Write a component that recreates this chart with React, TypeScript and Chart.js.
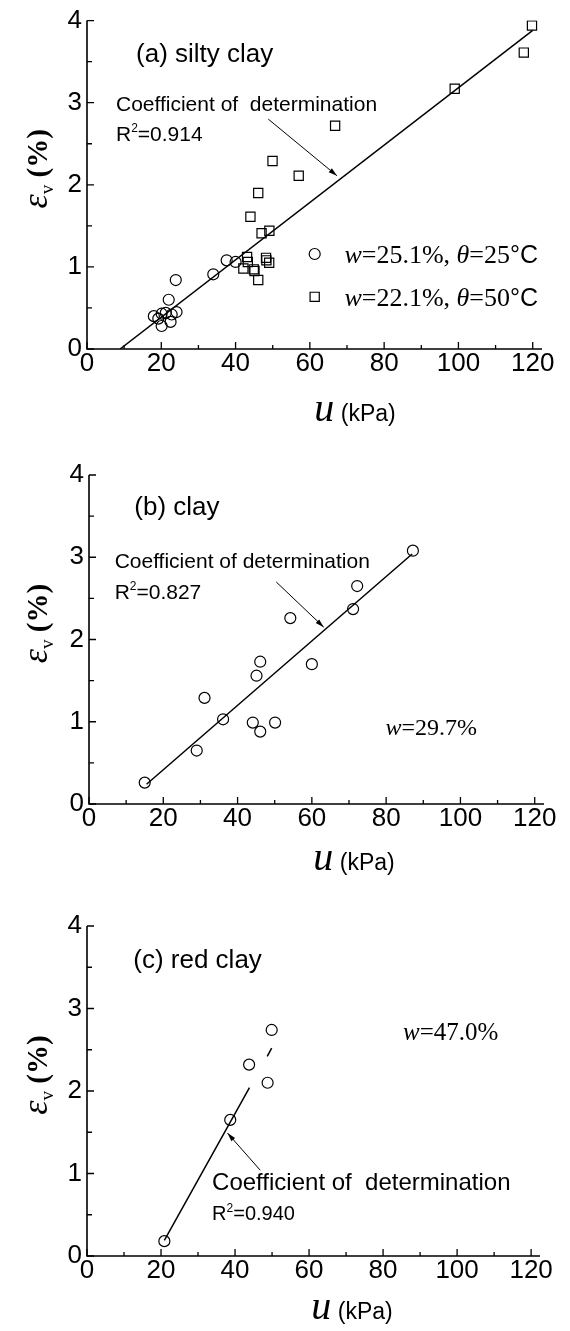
import React, { useEffect, useRef } from "react";
import { Chart, registerables } from "chart.js";

Chart.register(...registerables);

// ---------- data ----------
// Panel (a) silty clay
const aCircleU = [18.0, 19.2, 20.1, 21.2, 22.8, 24.1, 20.1, 22.5, 22.0, 23.9, 34.0, 37.6, 40.0];
const aCircleE = [0.40, 0.37, 0.43, 0.44, 0.42, 0.45, 0.28, 0.33, 0.60, 0.84, 0.91, 1.08, 1.06];
const aSquareU = [42.1, 43.1, 43.3, 44.0, 44.9, 45.1, 46.1, 46.1, 47.0, 48.2, 48.3, 49.05, 49.1, 49.95, 57.0, 66.8, 99.0, 117.6, 119.8];
const aSquareE = [0.98, 1.12, 1.06, 1.61, 0.97, 0.95, 0.84, 1.90, 1.41, 1.11, 1.08, 1.05, 1.44, 2.29, 2.11, 2.72, 3.17, 3.61, 3.94];
const aFitU = [8.9, 120];
const aFitE = [0, 3.88];

// Panel (b) clay
const bCircleU = [15.0, 29.0, 31.1, 36.1, 44.1, 46.1, 50.1, 45.1, 46.1, 54.2, 60.0, 71.1, 72.2, 87.2];
const bCircleE = [0.26, 0.65, 1.29, 1.03, 0.99, 0.88, 0.99, 1.56, 1.73, 2.26, 1.70, 2.37, 2.65, 3.08];
const bFitU = [15.5, 87.0];
const bFitE = [0.24, 3.04];

// Panel (c) red clay
const cCircleU = [20.9, 38.7, 43.8, 48.8, 49.9];
const cCircleE = [0.18, 1.65, 2.32, 2.10, 2.74];
const cFitU = [20.9, 43.9, 46.3, 48.7, 49.9];
const cFitE: (number | null)[] = [0.19, 2.04, null, 2.42, 2.52];

// ticks
const xTicks = [0, 20, 40, 60, 80, 100, 120];
const xMinorTicks = [10, 30, 50, 70, 90, 110];
const yTicks = [0, 1, 2, 3, 4];
const yMinorTicks = [0.5, 1.5, 2.5, 3.5];

// ---------- styles ----------
const SANS = '"Liberation Sans", Arial, Helvetica, sans-serif';
const SERIF = '"Liberation Serif", "Times New Roman", Times, serif';
const sans = (s: number) => `${s}px ${SANS}`;
const serif = (s: number, it = false) => `${it ? "italic " : ""}${s}px ${SERIF}`;

type Seg = { t: string; f: string; dy?: number };
type Note = { u: number; e: number; size: number; segs: Seg[] };
type Arrow = { from: [number, number]; to: [number, number] };
type Mark = { u: number; e: number; style: "circle" | "rect" };

const pts = (xs: number[], ys: (number | null)[]) => xs.map((x, i) => ({ x, y: ys[i] }));

function drawRich(ctx: CanvasRenderingContext2D, segs: Seg[], x: number, y: number, center = false) {
  let w = 0;
  segs.forEach((s) => {
    ctx.font = s.f;
    w += ctx.measureText(s.t).width;
  });
  let cx = center ? x - w / 2 : x;
  ctx.textAlign = "left";
  ctx.textBaseline = "alphabetic";
  segs.forEach((s) => {
    ctx.font = s.f;
    ctx.fillText(s.t, cx, y + (s.dy || 0));
    cx += ctx.measureText(s.t).width;
  });
}

const R2 = (val: string, size: number): Seg[] => [
  { t: "R", f: sans(size) },
  { t: "2", f: sans(Math.round(size * 0.58)), dy: -size * 0.42 },
  { t: "=" + val, f: sans(size) },
];

const circleStyle = { pointStyle: "circle", pointRadius: 5.5, borderWidth: 1.2, borderColor: "#000", backgroundColor: "rgba(0,0,0,0)" };
const rectStyle = { pointStyle: "rect", pointRadius: 6.5, borderWidth: 1.2, borderColor: "#000", backgroundColor: "rgba(0,0,0,0)" };
const fitStyle = { type: "line", borderColor: "#000", borderWidth: 1.5, pointRadius: 0, fill: false, spanGaps: false, tension: 0 };

type PanelCfg = {
  top: number;
  h: number;
  areaTop: number;
  areaBottom: number;
  left: number;
  right: number;
  xMax: number;
  xTitleX: number;
  xTitleDy: number;
  datasets: any[];
  notes: Note[];
  arrows: Arrow[];
  marks: Mark[];
};

const panels: PanelCfg[] = [
  {
    top: 0,
    h: 440,
    areaTop: 17,
    areaBottom: 349,
    left: 87,
    right: 542,
    xMax: 122.5,
    xTitleX: 355,
    xTitleDy: 72,
    datasets: [
      { type: "scatter", data: pts(aCircleU, aCircleE), ...circleStyle },
      { type: "scatter", data: pts(aSquareU, aSquareE), ...rectStyle },
      { data: pts(aFitU, aFitE), ...fitStyle },
    ],
    notes: [
      { u: 13.2, e: 3.61, size: 26, segs: [{ t: "(a) silty clay", f: sans(26) }] },
      { u: 7.8, e: 2.99, size: 21, segs: [{ t: "Coefficient of  determination", f: sans(21) }] },
      { u: 7.8, e: 2.63, size: 21, segs: R2("0.914", 21) },
      {
        u: 69.3, e: 1.157, size: 26,
        segs: [
          { t: "w", f: serif(26, true) },
          { t: "=25.1%, ", f: serif(26) },
          { t: "θ", f: serif(26, true) },
          { t: "=25", f: serif(26) },
          { t: "°C", f: sans(25) },
        ],
      },
      {
        u: 69.3, e: 0.635, size: 26,
        segs: [
          { t: "w", f: serif(26, true) },
          { t: "=22.1%, ", f: serif(26) },
          { t: "θ", f: serif(26, true) },
          { t: "=50", f: serif(26) },
          { t: "°C", f: sans(25) },
        ],
      },
    ],
    arrows: [{ from: [48.8, 2.8], to: [67.3, 2.11] }],
    marks: [
      { u: 61.3, e: 1.157, style: "circle" },
      { u: 61.3, e: 0.635, style: "rect" },
    ],
  },
  {
    top: 440,
    h: 445,
    areaTop: 35,
    areaBottom: 364,
    left: 89,
    right: 544,
    xMax: 122.5,
    xTitleX: 354,
    xTitleDy: 66,
    datasets: [
      { type: "scatter", data: pts(bCircleU, bCircleE), ...circleStyle },
      { data: pts(bFitU, bFitE), ...fitStyle },
    ],
    notes: [
      { u: 12.2, e: 3.63, size: 26, segs: [{ t: "(b) clay", f: sans(26) }] },
      { u: 6.9, e: 2.96, size: 21, segs: [{ t: "Coefficient of determination", f: sans(21) }] },
      { u: 6.9, e: 2.59, size: 21, segs: R2("0.827", 21) },
      { u: 79.8, e: 0.95, size: 24, segs: [{ t: "w", f: serif(24, true) }, { t: "=29.7%", f: serif(24) }] },
    ],
    arrows: [{ from: [50.4, 2.7], to: [63.2, 2.15] }],
    marks: [],
  },
  {
    top: 885,
    h: 446,
    areaTop: 41,
    areaBottom: 371,
    left: 87,
    right: 540,
    xMax: 122.4,
    xTitleX: 352,
    xTitleDy: 63,
    datasets: [
      { type: "scatter", data: pts(cCircleU, cCircleE), ...circleStyle },
      { data: pts(cFitU, cFitE), ...fitStyle },
    ],
    notes: [
      { u: 12.5, e: 3.61, size: 26, segs: [{ t: "(c) red clay", f: sans(26) }] },
      { u: 33.8, e: 0.9, size: 24, segs: [{ t: "Coefficient of  determination", f: sans(24) }] },
      { u: 33.8, e: 0.52, size: 20, segs: R2("0.940", 20) },
      { u: 85.4, e: 2.73, size: 25, segs: [{ t: "w", f: serif(25, true) }, { t: "=47.0%", f: serif(25) }] },
    ],
    arrows: [{ from: [46.8, 1.04], to: [37.96, 1.49] }],
    marks: [],
  },
];

function drawArrow(ctx: CanvasRenderingContext2D, x1: number, y1: number, x2: number, y2: number) {
  ctx.save();
  ctx.strokeStyle = "#000";
  ctx.fillStyle = "#000";
  ctx.lineWidth = 1;
  ctx.beginPath();
  ctx.moveTo(x1, y1);
  ctx.lineTo(x2, y2);
  ctx.stroke();
  const a = Math.atan2(y2 - y1, x2 - x1);
  const L = 9;
  const s = 0.28;
  ctx.beginPath();
  ctx.moveTo(x2, y2);
  ctx.lineTo(x2 - L * Math.cos(a - s), y2 - L * Math.sin(a - s));
  ctx.lineTo(x2 - L * Math.cos(a + s), y2 - L * Math.sin(a + s));
  ctx.closePath();
  ctx.fill();
  ctx.restore();
}

function Panel({ cfg }: { cfg: PanelCfg }) {
  const ref = useRef<HTMLCanvasElement>(null);
  useEffect(() => {
    const overlay = {
      id: "overlay" + cfg.top,
      afterDraw(chart: any) {
        const ctx: CanvasRenderingContext2D = chart.ctx;
        const xs = chart.scales.x;
        const ys = chart.scales.y;
        const { left, right, top, bottom } = chart.chartArea;
        ctx.save();
        ctx.strokeStyle = "#000";
        ctx.fillStyle = "#000";
        // axes lines
        ctx.lineWidth = 1.6;
        ctx.beginPath();
        ctx.moveTo(left, top);
        ctx.lineTo(left, bottom);
        ctx.lineTo(right, bottom);
        ctx.stroke();
        // ticks (inward)
        ctx.lineWidth = 1.3;
        ctx.beginPath();
        xTicks.forEach((v) => {
          const p = xs.getPixelForValue(v);
          ctx.moveTo(p, bottom);
          ctx.lineTo(p, bottom - 7);
        });
        xMinorTicks.forEach((v) => {
          const p = xs.getPixelForValue(v);
          ctx.moveTo(p, bottom);
          ctx.lineTo(p, bottom - 4);
        });
        yTicks.forEach((v) => {
          const p = ys.getPixelForValue(v);
          ctx.moveTo(left, p);
          ctx.lineTo(left + 7, p);
        });
        yMinorTicks.forEach((v) => {
          const p = ys.getPixelForValue(v);
          ctx.moveTo(left, p);
          ctx.lineTo(left + 5, p);
        });
        ctx.stroke();

        // notes
        cfg.notes.forEach((n) => {
          const x = xs.getPixelForValue(n.u);
          const y = ys.getPixelForValue(n.e) + n.size * 0.36;
          drawRich(ctx, n.segs, x, y);
        });
        cfg.arrows.forEach((a) => {
          drawArrow(
            ctx,
            xs.getPixelForValue(a.from[0]),
            ys.getPixelForValue(a.from[1]),
            xs.getPixelForValue(a.to[0]),
            ys.getPixelForValue(a.to[1])
          );
        });
        cfg.marks.forEach((m) => {
          const x = xs.getPixelForValue(m.u);
          const y = ys.getPixelForValue(m.e);
          ctx.lineWidth = 1.2;
          ctx.beginPath();
          if (m.style === "circle") ctx.arc(x, y, 5.5, 0, Math.PI * 2);
          else ctx.rect(x - 4.6, y - 4.6, 9.2, 9.2);
          ctx.stroke();
        });

        // y title (rotated)
        ctx.save();
        ctx.translate(36, (top + bottom) / 2 - 16);
        ctx.rotate(-Math.PI / 2);
        drawRich(
          ctx,
          [
            { t: "ε", f: serif(36, true) },
            { t: "v", f: serif(19), dy: 6 },
            { t: " (%)", f: "bold " + serif(29) },
          ],
          0,
          11,
          true
        );
        ctx.restore();

        // x title
        drawRich(
          ctx,
          [
            { t: "u", f: serif(40, true) },
            { t: " (kPa)", f: sans(23) },
          ],
          cfg.xTitleX,
          bottom + cfg.xTitleDy,
          true
        );
        ctx.restore();
      },
    };

    const chart = new Chart(ref.current as HTMLCanvasElement, {
      type: "scatter",
      data: { datasets: cfg.datasets as any },
      options: {
        animation: false,
        responsive: false,
        maintainAspectRatio: false,
        devicePixelRatio: 1,
        layout: { padding: { top: cfg.areaTop, right: 570 - cfg.right, left: 0, bottom: 0 } },
        plugins: { legend: { display: false }, tooltip: { enabled: false } },
        scales: {
          x: {
            type: "linear",
            min: 0,
            max: cfg.xMax,
            grid: { display: false, drawTicks: false },
            border: { display: false },
            afterBuildTicks: (s: any) => {
              s.ticks = xTicks.map((v) => ({ value: v }));
            },
            afterFit: (s: any) => {
              s.height = cfg.h - cfg.areaBottom;
            },
            ticks: {
              padding: -1,
              color: "#000",
              font: { family: SANS, size: 26 },
              maxRotation: 0,
              callback: (v: any) => String(v),
            },
          },
          y: {
            type: "linear",
            min: 0,
            max: 4,
            grid: { display: false, drawTicks: false },
            border: { display: false },
            afterBuildTicks: (s: any) => {
              s.ticks = yTicks.map((v) => ({ value: v }));
            },
            afterFit: (s: any) => {
              s.width = cfg.left;
            },
            ticks: {
              padding: 5,
              color: "#000",
              font: { family: SANS, size: 26 },
              callback: (v: any) => String(v),
            },
          },
        },
      } as any,
      plugins: [overlay],
    });
    return () => chart.destroy();
  }, []);
  return (
    <canvas
      ref={ref}
      width={570}
      height={cfg.h}
      style={{ position: "absolute", left: 0, top: cfg.top, width: 570, height: cfg.h, display: "block" }}
    />
  );
}

export default function App() {
  return (
    <div style={{ position: "absolute", left: 0, top: 0, width: 570, height: 1331, background: "#fff" }}>
      {panels.map((p, i) => (
        <Panel key={i} cfg={p} />
      ))}
    </div>
  );
}
